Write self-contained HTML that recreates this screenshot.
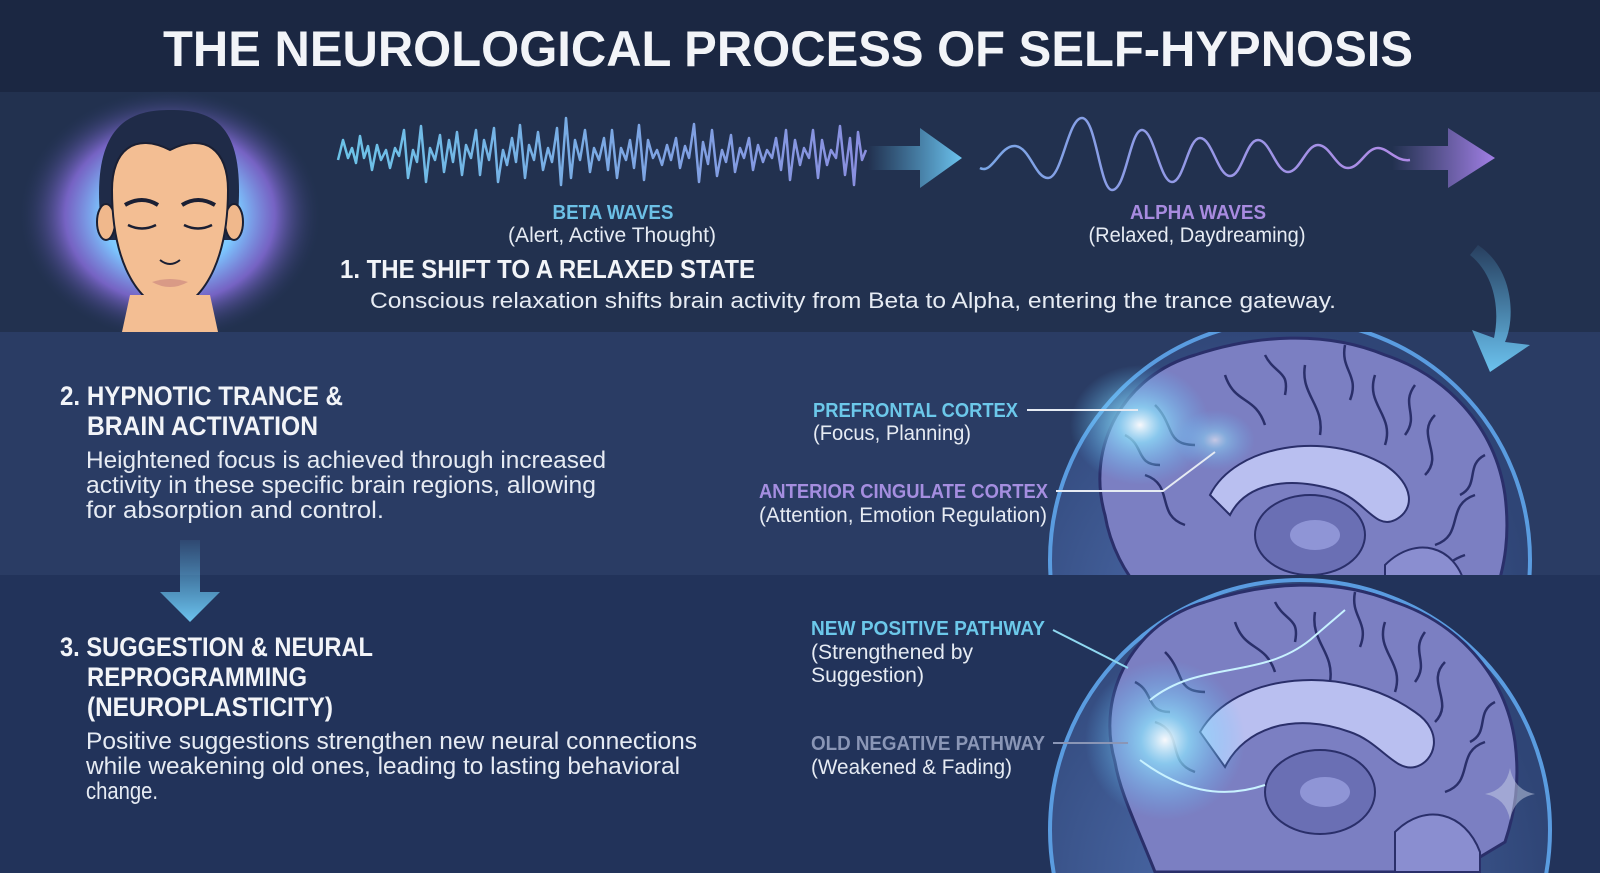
<!DOCTYPE html>
<html><head><meta charset="utf-8"><style>
html,body{margin:0;padding:0;background:#1d2a47;width:1600px;height:873px;overflow:hidden;}
svg{display:block}
text{font-family:"Liberation Sans Narrow","Liberation Sans",sans-serif;}
</style></head><body>
<svg width="1600" height="873" viewBox="0 0 1600 873" xmlns="http://www.w3.org/2000/svg">
<defs>
<radialGradient id="halo" cx="0.5" cy="0.5" r="0.5">
<stop offset="0" stop-color="#d9f2ff"/><stop offset="0.45" stop-color="#7cc8ff"/><stop offset="0.7" stop-color="#8a6fe0" stop-opacity="0.8"/><stop offset="1" stop-color="#2a3a63" stop-opacity="0"/>
</radialGradient>
<radialGradient id="glow" cx="0.5" cy="0.5" r="0.5">
<stop offset="0" stop-color="#ffffff" stop-opacity="0.95"/><stop offset="0.3" stop-color="#8fe6ff" stop-opacity="0.7"/><stop offset="1" stop-color="#5fbfff" stop-opacity="0"/>
</radialGradient>
<radialGradient id="headbg" cx="0.4" cy="0.6" r="0.6">
<stop offset="0" stop-color="#4f6fb0"/><stop offset="1" stop-color="#2f4576"/>
</radialGradient>
<linearGradient id="ab" x1="0" x2="1"><stop offset="0" stop-color="#5db8e8" stop-opacity="0"/><stop offset="1" stop-color="#6cc3ee"/></linearGradient>
<linearGradient id="ap" x1="0" x2="1"><stop offset="0" stop-color="#9b7fe0" stop-opacity="0"/><stop offset="1" stop-color="#a27fe6"/></linearGradient>
<linearGradient id="ad" x1="0" x2="0" y1="0" y2="1"><stop offset="0" stop-color="#5db8e8" stop-opacity="0.1"/><stop offset="1" stop-color="#6cc3ee"/></linearGradient>
<linearGradient id="bw" x1="0" x2="1"><stop offset="0" stop-color="#6cc3e8"/><stop offset="1" stop-color="#8a8fe0"/></linearGradient>
<linearGradient id="aw" x1="0" x2="1"><stop offset="0" stop-color="#7aa6e6"/><stop offset="1" stop-color="#b08ae6"/></linearGradient>
<clipPath id="c2"><rect x="0" y="332" width="1600" height="243"/></clipPath>
<clipPath id="c3"><rect x="0" y="577" width="1600" height="296"/></clipPath>
</defs>
<rect x="0" y="0" width="1600" height="92" fill="#1b2742"/>
<rect x="0" y="92" width="1600" height="240" fill="#22314f"/>
<rect x="0" y="332" width="1600" height="243" fill="#2a3c64"/>
<rect x="0" y="575" width="1600" height="298" fill="#22335a"/>
<text x="788" y="66" text-anchor="middle" font-size="50" font-weight="bold" fill="#f2f4f8" textLength="1250" lengthAdjust="spacingAndGlyphs" font-family="Liberation Sans">THE NEUROLOGICAL PROCESS OF SELF-HYPNOSIS</text>

<ellipse cx="170" cy="215" rx="150" ry="125" fill="url(#halo)"/>
<g>
<path d="M100 215 C92 120 135 110 170 110 C215 110 245 125 238 215 L232 240 L108 240 Z" fill="#1f2b48"/>
<ellipse cx="106" cy="222" rx="9" ry="18" fill="#f0b88c" stroke="#1a1f33" stroke-width="2"/>
<ellipse cx="234" cy="222" rx="9" ry="18" fill="#f0b88c" stroke="#1a1f33" stroke-width="2"/>
<path d="M112 190 C112 150 135 132 170 150 C205 132 228 150 228 190 C228 250 210 300 170 312 C130 300 112 250 112 190 Z" fill="#f3be93" stroke="#1a1f33" stroke-width="2"/>
<path d="M122 332 L130 295 L210 295 L218 332 Z" fill="#f3be93"/>
<path d="M125 205 Q142 195 158 205 M182 205 Q198 195 215 205" stroke="#1a1f33" stroke-width="4" fill="none"/>
<path d="M128 225 Q142 232 156 225 M184 225 Q198 232 212 225" stroke="#1a1f33" stroke-width="2.5" fill="none"/>
<path d="M160 260 Q170 268 180 260" stroke="#1a1f33" stroke-width="2" fill="none"/>
<path d="M152 282 Q170 276 188 282 Q170 292 152 282 Z" fill="#d99a86"/>
</g>

<polyline fill="none" stroke="url(#bw)" stroke-width="2.5" stroke-linejoin="round" points="338,160 343,140 348,158 352,148 356,163 360,136 364,158 368,146 372,170 377,145 381,160 386,150 390,168 395,148 399,156 404,130 408,178 413,150 417,162 421,126 426,182 430,148 435,160 440,135 444,172 449,140 453,162 457,132 462,175 466,145 471,158 476,130 480,175 484,140 489,160 494,128 498,182 503,150 507,165 512,138 516,162 520,125 525,178 529,145 534,160 538,132 543,170 548,148 552,162 557,128 561,185 566,118 571,178 575,140 580,160 585,130 590,172 594,148 599,160 604,138 608,170 612,130 617,178 621,148 626,160 630,140 634,168 639,125 644,180 648,140 653,158 657,150 662,165 667,145 671,160 676,138 680,168 685,146 689,158 694,124 699,182 703,142 708,164 712,130 717,176 722,150 726,162 731,135 735,172 740,148 744,158 749,138 753,170 758,145 763,162 767,150 772,158 776,138 781,170 786,130 790,180 795,140 800,165 804,148 809,158 813,130 818,178 822,140 827,165 831,150 836,158 840,126 845,175 850,138 854,185 858,132 862,160 866,150"/>
<path d="M868 146 L920 146 L920 128 L962 158 L920 188 L920 170 L868 170 Z" fill="url(#ab)"/>
<path d="M980 168 C992 175 1000 145 1015 146 C1030 147 1035 178 1048 178 C1062 178 1068 118 1082 118 C1096 118 1100 190 1112 190 C1126 190 1130 130 1142 130 C1154 130 1160 182 1172 182 C1184 182 1188 138 1200 138 C1212 138 1218 176 1230 176 C1242 176 1246 140 1258 140 C1270 140 1276 172 1288 172 C1300 172 1306 145 1318 145 C1330 145 1336 168 1348 168 C1360 168 1366 148 1378 148 C1388 148 1396 162 1410 160" fill="none" stroke="url(#aw)" stroke-width="2.5"/>
<path d="M1392 146 L1448 146 L1448 128 L1495 158 L1448 188 L1448 170 L1392 170 Z" fill="url(#ap)"/>
<path d="M1478 245 C1515 270 1515 320 1505 342 L1530 345 L1490 372 L1472 330 L1494 338 C1500 310 1495 275 1470 255 Z" fill="url(#ad)"/>

<text x="613" y="219" text-anchor="middle" font-size="20" font-weight="bold" fill="#6cc0e6" textLength="121" lengthAdjust="spacingAndGlyphs">BETA WAVES</text>
<text x="612" y="242" text-anchor="middle" font-size="21" fill="#e6ebf3" textLength="208" lengthAdjust="spacingAndGlyphs">(Alert, Active Thought)</text>
<text x="1198" y="219" text-anchor="middle" font-size="20" font-weight="bold" fill="#a88be0" textLength="136" lengthAdjust="spacingAndGlyphs">ALPHA WAVES</text>
<text x="1197" y="242" text-anchor="middle" font-size="21" fill="#e6ebf3" textLength="217" lengthAdjust="spacingAndGlyphs">(Relaxed, Daydreaming)</text>
<text x="340" y="278" font-size="26" font-weight="bold" fill="#f2f4f8" textLength="415" lengthAdjust="spacingAndGlyphs">1. THE SHIFT TO A RELAXED STATE</text>
<text x="370" y="308" font-size="22" fill="#e6ebf3" textLength="966" lengthAdjust="spacingAndGlyphs">Conscious relaxation shifts brain activity from Beta to Alpha, entering the trance gateway.</text>

<g clip-path="url(#c2)">
<circle cx="1290" cy="560" r="240" fill="url(#headbg)" stroke="#5a9ce0" stroke-width="4"/>
<g transform="translate(1085,335)">
<path d="M20 180 C0 110 40 40 110 20 C170 0 240 -5 300 20 C360 40 410 90 420 160 C425 200 420 230 410 260 L60 260 C40 240 25 210 20 180 Z" fill="#7b7fc2" stroke="#2a2f6a" stroke-width="3"/>
<path d="M70 70 C90 90 80 110 110 110 M140 40 C150 70 170 60 180 90 M220 30 C215 60 240 70 235 100 M290 40 C280 70 310 80 300 110 M350 80 C330 100 360 120 340 140 M390 160 C360 170 380 200 350 210 M60 140 C90 150 70 180 100 190 M380 220 C350 230 360 250 330 250 M40 100 C60 110 50 130 75 130 M180 20 C190 40 205 35 200 60 M260 10 C255 35 275 40 265 65 M330 50 C315 70 335 80 320 100 M400 120 C380 130 395 150 375 160" stroke="#2a2f6a" stroke-width="2.5" fill="none"/>
<path d="M125 160 C150 110 240 95 300 130 C330 150 330 175 310 185 C290 195 280 165 250 155 C200 140 160 150 145 180 Z" fill="#b9bff0" stroke="#2a2f6a" stroke-width="2"/>
<ellipse cx="225" cy="200" rx="55" ry="40" fill="#6a6fb4" stroke="#2a2f6a" stroke-width="2"/>
<ellipse cx="230" cy="200" rx="25" ry="15" fill="#8f95d6"/>
<path d="M300 230 C330 200 370 210 380 250 L380 260 L300 260 Z" fill="#8a8ed0" stroke="#2a2f6a" stroke-width="2"/>
</g>
<ellipse cx="1140" cy="425" rx="70" ry="60" fill="url(#glow)"/>
<ellipse cx="1215" cy="440" rx="40" ry="30" fill="url(#glow)" opacity="0.6"/>
</g>
<g clip-path="url(#c3)">
<circle cx="1300" cy="830" r="250" fill="url(#headbg)" stroke="#5a9ce0" stroke-width="4"/>
<g transform="translate(1095,582)">
<path d="M20 180 C0 110 40 40 110 20 C170 0 240 -5 300 20 C360 40 410 90 420 160 C425 200 420 230 410 260 L360 290 L60 290 C40 240 25 210 20 180 Z" fill="#7b7fc2" stroke="#2a2f6a" stroke-width="3"/>
<path d="M70 70 C90 90 80 110 110 110 M140 40 C150 70 170 60 180 90 M220 30 C215 60 240 70 235 100 M290 40 C280 70 310 80 300 110 M350 80 C330 100 360 120 340 140 M390 160 C360 170 380 200 350 210 M60 140 C90 150 70 180 100 190 M40 100 C60 110 50 130 75 130 M180 20 C190 40 205 35 200 60 M260 10 C255 35 275 40 265 65 M330 50 C315 70 335 80 320 100 M400 120 C380 130 395 150 375 160" stroke="#2a2f6a" stroke-width="2.5" fill="none"/>
<path d="M105 150 C140 90 250 80 320 130 C350 150 340 180 320 185 C300 190 285 160 255 150 C200 130 150 145 130 185 Z" fill="#b9bff0" stroke="#2a2f6a" stroke-width="2"/>
<ellipse cx="225" cy="210" rx="55" ry="42" fill="#6a6fb4" stroke="#2a2f6a" stroke-width="2"/>
<ellipse cx="230" cy="210" rx="25" ry="15" fill="#8f95d6"/>
<path d="M300 250 C330 220 370 230 385 270 L385 290 L300 290 Z" fill="#8a8ed0" stroke="#2a2f6a" stroke-width="2"/>
</g>
<ellipse cx="1165" cy="740" rx="80" ry="80" fill="url(#glow)"/>
<path d="M1150 700 C1200 660 1260 680 1310 640 L1345 610 M1140 760 C1180 790 1220 800 1265 785" stroke="#c8f2ff" stroke-width="2" fill="none"/>
</g>

<text x="60" y="405" font-size="27" font-weight="bold" fill="#f2f4f8" textLength="283" lengthAdjust="spacingAndGlyphs">2. HYPNOTIC TRANCE &amp;</text>
<text x="87" y="435" font-size="27" font-weight="bold" fill="#f2f4f8" textLength="231" lengthAdjust="spacingAndGlyphs">BRAIN ACTIVATION</text>
<text x="86" y="468" font-size="24" fill="#e6ebf3" textLength="520" lengthAdjust="spacingAndGlyphs">Heightened focus is achieved through increased</text>
<text x="86" y="493" font-size="24" fill="#e6ebf3" textLength="510" lengthAdjust="spacingAndGlyphs">activity in these specific brain regions, allowing</text>
<text x="86" y="518" font-size="24" fill="#e6ebf3" textLength="298" lengthAdjust="spacingAndGlyphs">for absorption and control.</text>
<path d="M180 540 L200 540 L200 592 L220 592 L190 622 L160 592 L180 592 Z" fill="url(#ad)"/>
<text x="60" y="656" font-size="27" font-weight="bold" fill="#f2f4f8" textLength="313" lengthAdjust="spacingAndGlyphs">3. SUGGESTION &amp; NEURAL</text>
<text x="87" y="686" font-size="27" font-weight="bold" fill="#f2f4f8" textLength="220" lengthAdjust="spacingAndGlyphs">REPROGRAMMING</text>
<text x="87" y="716" font-size="27" font-weight="bold" fill="#f2f4f8" textLength="246" lengthAdjust="spacingAndGlyphs">(NEUROPLASTICITY)</text>
<text x="86" y="749" font-size="24" fill="#e6ebf3" textLength="611" lengthAdjust="spacingAndGlyphs">Positive suggestions strengthen new neural connections</text>
<text x="86" y="774" font-size="24" fill="#e6ebf3" textLength="594" lengthAdjust="spacingAndGlyphs">while weakening old ones, leading to lasting behavioral</text>
<text x="86" y="799" font-size="24" fill="#e6ebf3" textLength="72" lengthAdjust="spacingAndGlyphs">change.</text>

<text x="813" y="417" font-size="20" font-weight="bold" fill="#6cc8ea" textLength="205" lengthAdjust="spacingAndGlyphs">PREFRONTAL CORTEX</text>
<line x1="1027" y1="410" x2="1138" y2="410" stroke="#e6ebf3" stroke-width="2"/>
<text x="813" y="440" font-size="21" fill="#e6ebf3" textLength="158" lengthAdjust="spacingAndGlyphs">(Focus, Planning)</text>
<text x="759" y="498" font-size="20" font-weight="bold" fill="#a58ee0" textLength="289" lengthAdjust="spacingAndGlyphs">ANTERIOR CINGULATE CORTEX</text>
<polyline points="1056,491 1163,491 1215,452" fill="none" stroke="#e6ebf3" stroke-width="2"/>
<text x="759" y="522" font-size="21" fill="#e6ebf3" textLength="288" lengthAdjust="spacingAndGlyphs">(Attention, Emotion Regulation)</text>
<text x="811" y="635" font-size="20" font-weight="bold" fill="#6cc8ea" textLength="234" lengthAdjust="spacingAndGlyphs">NEW POSITIVE PATHWAY</text>
<line x1="1053" y1="630" x2="1128" y2="668" stroke="#8fd8f0" stroke-width="2"/>
<text x="811" y="659" font-size="21" fill="#e6ebf3" textLength="162" lengthAdjust="spacingAndGlyphs">(Strengthened by</text>
<text x="811" y="682" font-size="21" fill="#e6ebf3" textLength="113" lengthAdjust="spacingAndGlyphs">Suggestion)</text>
<text x="811" y="750" font-size="20" font-weight="bold" fill="#8a96b6" textLength="234" lengthAdjust="spacingAndGlyphs">OLD NEGATIVE PATHWAY</text>
<line x1="1053" y1="743" x2="1128" y2="743" stroke="#8a96b6" stroke-width="2"/>
<text x="811" y="774" font-size="21" fill="#e6ebf3" textLength="201" lengthAdjust="spacingAndGlyphs">(Weakened &amp; Fading)</text>
<path d="M1510 768 Q1514 790 1535 794 Q1514 798 1510 820 Q1506 798 1485 794 Q1506 790 1510 768 Z" fill="#c8cfe6" opacity="0.5"/>
</svg>
</body></html>
